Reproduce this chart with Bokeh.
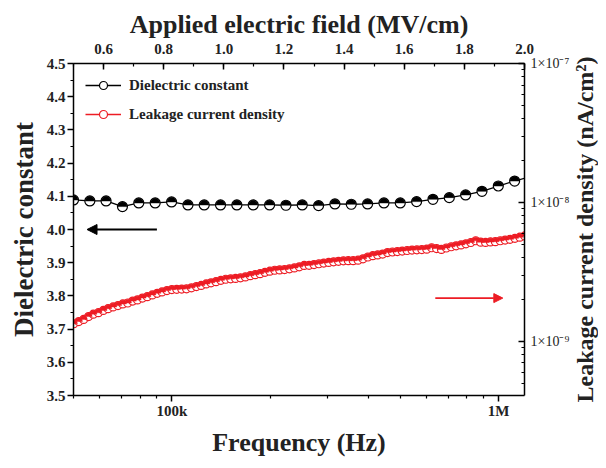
import math
from bokeh.plotting import figure
from bokeh.models import (Range1d, LinearAxis, LogAxis, LinearScale, LogScale, FixedTicker,
                          SingleIntervalTicker, Legend, LegendItem, Arrow, NormalHead, Label,
                          ColumnDataSource, CustomJSTickFormatter, NumeralTickFormatter)
from bokeh.embed import file_html
from bokeh.resources import INLINE

FONT = "Liberation Serif"
RED = "#ED1C24"

# ---------------- data ----------------
freq_dc = [50000, 56100, 62900, 70600, 79200, 88900, 99800, 112000, 125600, 140900,
           158100, 177400, 199100, 223400, 250600, 281200, 315500, 354000, 397200, 445700,
           500000, 561000, 629500, 706300, 792500, 889200, 997700, 1119400, 1256000]
dielectric = [4.089, 4.086, 4.086, 4.069, 4.080, 4.080, 4.083, 4.074, 4.074, 4.074,
              4.074, 4.074, 4.074, 4.073, 4.074, 4.072, 4.077, 4.076, 4.077, 4.080,
              4.080, 4.084, 4.091, 4.096, 4.104, 4.115, 4.131, 4.146, 4.160]

freq_j = [50100, 51900, 53700, 55600, 57500, 59600, 61700, 63800, 66100, 68400,
          70800, 73300, 75900, 78500, 81300, 84100, 87100, 90200, 93300, 96600,
          100000, 103500, 107200, 110900, 114800, 118900, 123000, 127400, 131800, 136500,
          141300, 146200, 151400, 156700, 162200, 167900, 173800, 179900, 186200, 192800,
          199500, 206500, 213800, 221300, 229100, 237100, 245500, 254100, 263000, 272300,
          281800, 291700, 302000, 312600, 323600, 335000, 346700, 358900, 371500, 384600,
          398100, 412100, 426600, 441600, 457100, 473200, 489800, 507000, 524800, 543300,
          562300, 582100, 602600, 623700, 645700, 668300, 691800, 716100, 741300, 767400,
          794300, 822200, 851100, 881000, 912000, 944100, 977200, 1011600, 1047100, 1083900,
          1122000, 1161400, 1202300]
# leakage current density, in units of 1e-9
leak_e9 = [1.34, 1.39, 1.44, 1.51, 1.57, 1.61, 1.67, 1.72, 1.77, 1.81,
           1.86, 1.89, 1.95, 1.99, 2.05, 2.10, 2.16, 2.22, 2.27, 2.32,
           2.36, 2.37, 2.38, 2.39, 2.43, 2.48, 2.53, 2.59, 2.64, 2.69,
           2.75, 2.80, 2.82, 2.84, 2.87, 2.91, 2.97, 3.02, 3.07, 3.14,
           3.20, 3.25, 3.27, 3.29, 3.33, 3.38, 3.44, 3.52, 3.53, 3.57,
           3.62, 3.66, 3.70, 3.74, 3.77, 3.80, 3.81, 3.81, 3.84, 3.93,
           4.05, 4.14, 4.19, 4.25, 4.36, 4.40, 4.43, 4.47, 4.51, 4.54,
           4.56, 4.58, 4.61, 4.72, 4.66, 4.59, 4.70, 4.80, 4.87, 4.95,
           5.04, 5.15, 5.30, 5.18, 5.16, 5.20, 5.22, 5.30, 5.36, 5.43,
           5.52, 5.62, 5.74]
leak = [v * 1e-9 for v in leak_e9]

freq_major = [1e5, 1e6]
freq_minor = [5e4, 6e4, 7e4, 8e4, 9e4, 2e5, 3e5, 4e5, 5e5, 6e5, 7e5, 8e5, 9e5]
j_major = [1e-9, 1e-8, 1e-7]
j_minor = [5e-10, 6e-10, 7e-10, 8e-10, 9e-10,
           2e-9, 3e-9, 4e-9, 5e-9, 6e-9, 7e-9, 8e-9, 9e-9,
           2e-8, 3e-8, 4e-8, 5e-8, 6e-8, 7e-8, 8e-8, 9e-8]

# arrows (annotation positions)
arrow_dc = dict(x0=9.0e4, x1=5.5e4, y=4.0)
arrow_j = dict(x0=6.4e5, x1=1.03e6, y=2.05e-9)

# ---------------- figure ----------------
p = figure(width=598, height=460, x_axis_type="log",
           x_range=Range1d(5e4, 1.2e6), y_range=Range1d(3.5, 4.5),
           output_backend="svg", toolbar_location=None,
           min_border_left=73, min_border_right=73, min_border_top=63, min_border_bottom=65)
p.extra_x_ranges = {"field": Range1d(0.5, 2.0)}
p.extra_x_scales = {"field": LinearScale()}
p.extra_y_ranges = {"j": Range1d(4.08e-10, 1e-7)}
p.extra_y_scales = {"j": LogScale()}
p.grid.visible = False
p.outline_line_color = None
p.background_fill_color = "white"
p.border_fill_color = "white"

src_dc = ColumnDataSource(dict(f=freq_dc, v=dielectric))
src_j = ColumnDataSource(dict(f=freq_j, v=leak))

l1 = p.line("f", "v", source=src_dc, line_color="black", line_width=1.3)
c1 = p.scatter("f", "v", source=src_dc, marker="circle", size=10, fill_color="white",
               line_color="black", line_width=1.2)
p.wedge("f", "v", source=src_dc, radius=4.6, radius_units="screen", start_angle=0,
        end_angle=math.pi, fill_color="black", line_color="black", line_width=0.5)

l2 = p.line("f", "v", source=src_j, y_range_name="j", line_color=RED, line_width=1.5)
c2 = p.scatter("f", "v", source=src_j, y_range_name="j", marker="circle", size=8,
               fill_color="white", line_color=RED, line_width=1.2)
p.wedge("f", "v", source=src_j, y_range_name="j", radius=3.6, radius_units="screen",
        start_angle=0, end_angle=math.pi, fill_color=RED, line_color=RED, line_width=0.5)

# arrows
p.add_layout(Arrow(end=NormalHead(size=10, fill_color="black", line_color="black"),
                   x_start=arrow_dc["x0"], y_start=arrow_dc["y"], x_end=arrow_dc["x1"], y_end=arrow_dc["y"],
                   line_color="black", line_width=2))
p.add_layout(Arrow(end=NormalHead(size=9, fill_color=RED, line_color=RED),
                   x_start=arrow_j["x0"], y_start=arrow_j["y"], x_end=arrow_j["x1"], y_end=arrow_j["y"],
                   y_range_name="j", line_color=RED, line_width=1.6))

# ---------------- axes ----------------
def style(ax, label_size="26px"):
    ax.axis_line_width = 1.5
    ax.axis_line_color = "black"
    ax.major_tick_line_width = 1.5
    ax.minor_tick_line_width = 1.2
    ax.major_label_text_font = FONT
    ax.major_label_text_font_style = "bold"
    ax.major_label_text_font_size = "15px"
    ax.major_label_text_color = "#222222"
    ax.axis_label_text_font = FONT
    ax.axis_label_text_font_style = "bold"
    ax.axis_label_text_font_size = label_size
    ax.axis_label_text_color = "#222222"

xb = p.xaxis[0]
style(xb, "26px")
xb.ticker = FixedTicker(ticks=freq_major, minor_ticks=freq_minor)
xb.formatter = CustomJSTickFormatter(code="""
    if (tick >= 1e6) { return (tick/1e6).toFixed(0) + "M"; }
    return (tick/1e3).toFixed(0) + "k";
""")
xb.axis_label = "Frequency (Hz)"
xb.major_tick_out = 6; xb.major_tick_in = 0
xb.minor_tick_out = 3; xb.minor_tick_in = 0
xb.major_label_standoff = 1
xb.axis_label_standoff = 6

yl = p.yaxis[0]
style(yl, "27px")
yl.ticker = SingleIntervalTicker(interval=0.1, num_minor_ticks=2)
yl.formatter = NumeralTickFormatter(format="0.0")
yl.axis_label = "Dielectric constant"
yl.major_tick_out = 6; yl.major_tick_in = 0
yl.minor_tick_out = 3; yl.minor_tick_in = 0
yl.major_label_standoff = 2
yl.axis_label_standoff = 5

xt = LinearAxis(x_range_name="field", axis_label="Applied electric field (MV/cm)")
style(xt, "26px")
xt.ticker = SingleIntervalTicker(interval=0.2, num_minor_ticks=2)
xt.formatter = NumeralTickFormatter(format="0.0")
xt.major_tick_in = 6; xt.major_tick_out = 0
xt.minor_tick_in = 3; xt.minor_tick_out = 0
xt.major_label_standoff = 10
xt.axis_label_standoff = 2
p.add_layout(xt, "above")

yr = LogAxis(y_range_name="j")
style(yr)
yr.ticker = FixedTicker(ticks=j_major, minor_ticks=j_minor)
yr.formatter = CustomJSTickFormatter(code="""
    const e = Math.round(Math.log10(tick));
    const sup = {"0":"\\u2070","1":"\\u00b9","2":"\\u00b2","3":"\\u00b3","4":"\\u2074",
                 "5":"\\u2075","6":"\\u2076","7":"\\u2077","8":"\\u2078","9":"\\u2079","-":"\\u207b"};
    let s = "";
    for (const ch of String(e)) { s += sup[ch]; }
    return "1\\u00d710" + s;
""")
yr.major_label_text_font_style = "normal"
yr.major_label_text_font_size = "14px"
yr.major_tick_in = 6; yr.major_tick_out = 0
yr.minor_tick_in = 3; yr.minor_tick_out = 0
yr.major_label_standoff = 6
p.add_layout(yr, "right")

# right axis title, reading bottom-to-top like the left one (placed in the right panel so it is not clipped)
jr = p.extra_y_ranges["j"]
p.add_layout(Label(x=p.x_range.end, y=math.sqrt(jr.start * jr.end), y_range_name="j",
                   x_offset=60, angle=math.pi / 2, text="Leakage current density (nA/cm\u00b2)",
                   text_font=FONT, text_font_style="bold", text_font_size="24px",
                   text_color="#222222", text_align="center", text_baseline="middle"), "right")

# ---------------- legend ----------------
legend = Legend(items=[LegendItem(label="Dielectric constant", renderers=[l1, c1]),
                       LegendItem(label="Leakage current density", renderers=[l2, c2])],
                location="top_left")
legend.label_text_font = FONT
legend.label_text_font_style = "bold"
legend.label_text_font_size = "15px"
legend.label_text_color = "#222222"
legend.border_line_color = None
legend.background_fill_alpha = 0
legend.glyph_width = 36
legend.glyph_height = 20
legend.spacing = 9
legend.padding = 10
legend.margin = 12
legend.label_standoff = 8
p.add_layout(legend)

open("out.html", "w", encoding="utf-8").write(file_html(p, INLINE))
